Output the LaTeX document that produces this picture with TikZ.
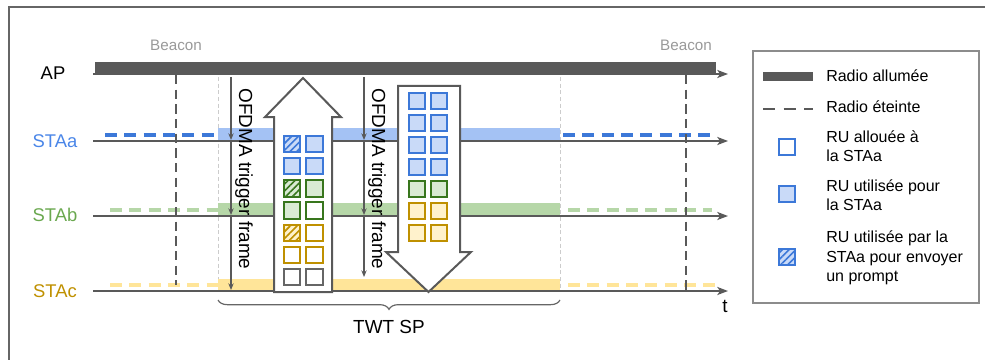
\documentclass[tikz,border=0pt]{standalone}
\usepackage{fontspec}
\setmainfont{Liberation Sans}
\usetikzlibrary{arrows.meta,patterns.meta,decorations.pathreplacing}

\definecolor{barGray}{HTML}{595959}
\definecolor{frameGray}{HTML}{666666}
\definecolor{legGray}{HTML}{8C8C8C}
\definecolor{guideGray}{HTML}{CCCCCC}
\definecolor{beaconGray}{HTML}{999999}
\definecolor{staBlue}{HTML}{3C78D8}
\definecolor{staBlueLab}{HTML}{4A86E8}
\definecolor{bandBlue}{HTML}{A4C2F4}
\definecolor{ruBlueFill}{HTML}{C9DAF8}
\definecolor{staGreen}{HTML}{38761D}
\definecolor{staGreenLab}{HTML}{6AA84F}
\definecolor{bandGreen}{HTML}{B6D7A8}
\definecolor{ruGreenFill}{HTML}{D9EAD3}
\definecolor{staYellow}{HTML}{BF9000}
\definecolor{bandYellow}{HTML}{FFE599}
\definecolor{ruYellowFill}{HTML}{FFF2CC}

\newcommand{\stafont}{\fontsize{13.8}{16}\selectfont}
\newcommand{\legfont}{\fontsize{12}{14.5}\selectfont}
\newcommand{\trigfont}{\fontsize{14.2}{16}\selectfont}

\tikzset{
  timeaxis/.style={draw=barGray, line width=1.4pt, -{Stealth[length=8pt,width=6pt,inset=2pt]}},
  offline/.style={line width=2.6pt, dash pattern=on 9pt off 5.5pt},
  beaconline/.style={draw=barGray, line width=1.6pt, dash pattern=on 7pt off 4pt},
  guide/.style={draw=guideGray, line width=0.6pt, dash pattern=on 3pt off 2pt},
  trig/.style={draw=barGray, line width=0.8pt, -{Stealth[length=5pt,width=4pt]}},
  blockarrow/.style={draw=barGray, line width=1.5pt, fill=white, line join=miter},
  ru/.style={draw=#1, line width=1.5pt, inner sep=0pt, minimum size=12.4pt, fill=white},
  hatch/.style={postaction={pattern={Lines[angle=45,distance=3.6pt,line width=1.2pt]}, pattern color=#1}},
  stalabel/.style={font=\stafont, inner sep=0.75pt},
  legtext/.style={font=\legfont, anchor=west, align=left, inner sep=0.75pt},
}

\begin{document}
\begin{tikzpicture}[x=0.75pt,y=0.75pt,yscale=-1,xscale=1]
\useasboundingbox (0,0) rectangle (985,360);

%Outer frame
\draw[frameGray, line width=1.2pt] (9,360) -- (9,7) -- (985,7);

%Guides of the TWT SP
\draw[guide] (218,77) -- (218,291);
\draw[guide] (560,77) -- (560,291);

%Bands: radio on during the TWT SP
\fill[bandBlue] (218,128) rectangle (560,141);
\fill[bandGreen] (218,203) rectangle (560,216);
\fill[bandYellow] (218,279) rectangle (560,291);

%Radio off
\draw[offline, staBlue] (105,135) -- (218,135);
\draw[offline, staBlue] (563,135) -- (712,135);
\draw[offline, bandGreen] (110,210) -- (218,210);
\draw[offline, bandGreen] (568,210) -- (712,210);
\draw[offline, bandYellow] (110,285) -- (218,285);
\draw[offline, bandYellow] (568,285) -- (716,285);

%Beacons
\draw[beaconline] (176,75) -- (176,285);
\draw[beaconline] (686,75) -- (686,291);
\node[font=\fontsize{11.4}{13}\selectfont, text=beaconGray] (bcn1) at (176,45) {Beacon};
\node[font=\fontsize{11.4}{13}\selectfont, text=beaconGray] (bcn2) at (686,45) {Beacon};

%AP bar
\fill[barGray] (95,62) rectangle (716,75);

%Time axes
\coordinate (apS) at (93,74);  \coordinate (apE) at (728,74);
\coordinate (aS) at (93,141);  \coordinate (aE) at (728,141);
\coordinate (bS) at (93,216);  \coordinate (bE) at (728,216);
\coordinate (cS) at (93,291);  \coordinate (cE) at (728,291);
\draw[timeaxis] (apS) -- (apE);
\draw[timeaxis] (aS) -- (aE);
\draw[timeaxis] (bS) -- (bE);
\draw[timeaxis] (cS) -- (cE);

% Text Node
\node[stalabel] (ap) at (53,73) {AP};
\node[stalabel, text=staBlueLab] (staa) at (55,141) {STAa};
\node[stalabel, text=staGreenLab] (stab) at (55,215) {STAb};
\node[stalabel, text=staYellow] (stac) at (55,291) {STAc};
\node[font=\trigfont] (tlab) at (725,306) {t};

%Trigger frames
\coordinate (t1) at (231,77);  \coordinate (t1a) at (231,140);
\coordinate (t1b) at (231,215); \coordinate (t1c) at (231,290);
\draw[trig] (t1) -- (t1a);
\draw[trig] (t1a) -- (t1b);
\draw[trig] (t1b) -- (t1c);
\node[font=\trigfont, rotate=-90] (trig1) at (244,179) {OFDMA trigger frame};
\coordinate (t2) at (364,77);  \coordinate (t2a) at (364,140);
\coordinate (t2b) at (364,215); \coordinate (t2c) at (364,277);
\draw[trig] (t2) -- (t2a);
\draw[trig] (t2a) -- (t2b);
\draw[trig] (t2b) -- (t2c);
\node[font=\trigfont, rotate=-90] (trig2) at (377,179) {OFDMA trigger frame};

%Shape: Up arrow
\draw[blockarrow] (274,292) -- (274,117) -- (265,117) -- (303,78) -- (341,117) -- (332,117) -- (332,292) -- cycle;
%Shape: Down arrow
\draw[blockarrow] (398,86) -- (460,86) -- (460,252) -- (471,252) -- (428.5,292) -- (386,252) -- (398,252) -- cycle;

%RUs of the uplink
\node[ru=staBlue, fill=ruBlueFill, hatch=staBlue] (u1a) at (292,144) {};
\node[ru=staBlue, fill=ruBlueFill] (u1b) at (314.5,144) {};
\node[ru=staBlue, fill=ruBlueFill] (u2a) at (292,166.2) {};
\node[ru=staBlue, fill=ruBlueFill] (u2b) at (314.5,166.2) {};
\node[ru=staGreen, fill=ruGreenFill, hatch=staGreen] (u3a) at (292,188.4) {};
\node[ru=staGreen, fill=ruGreenFill] (u3b) at (314.5,188.4) {};
\node[ru=staGreen, fill=ruGreenFill] (u4a) at (292,210.6) {};
\node[ru=staGreen] (u4b) at (314.5,210.6) {};
\node[ru=staYellow, fill=ruYellowFill, hatch=staYellow] (u5a) at (292,232.8) {};
\node[ru=staYellow] (u5b) at (314.5,232.8) {};
\node[ru=staYellow] (u6a) at (292,255) {};
\node[ru=staYellow] (u6b) at (314.5,255) {};
\node[ru=frameGray] (u7a) at (292,277.2) {};
\node[ru=frameGray] (u7b) at (314.5,277.2) {};

%RUs of the downlink
\node[ru=staBlue, fill=ruBlueFill] (d1a) at (417,101) {};
\node[ru=staBlue, fill=ruBlueFill] (d1b) at (439,101) {};
\node[ru=staBlue, fill=ruBlueFill] (d2a) at (417,123) {};
\node[ru=staBlue, fill=ruBlueFill] (d2b) at (439,123) {};
\node[ru=staBlue, fill=ruBlueFill] (d3a) at (417,145) {};
\node[ru=staBlue, fill=ruBlueFill] (d3b) at (439,145) {};
\node[ru=staBlue, fill=ruBlueFill] (d4a) at (417,167) {};
\node[ru=staBlue, fill=ruBlueFill] (d4b) at (439,167) {};
\node[ru=staGreen, fill=ruGreenFill] (d5a) at (417,189) {};
\node[ru=staGreen, fill=ruGreenFill] (d5b) at (439,189) {};
\node[ru=staYellow, fill=ruYellowFill] (d6a) at (417,211) {};
\node[ru=staYellow, fill=ruYellowFill] (d6b) at (439,211) {};
\node[ru=staYellow, fill=ruYellowFill] (d7a) at (417,233) {};
\node[ru=staYellow, fill=ruYellowFill] (d7b) at (439,233) {};

%TWT SP brace
\coordinate (twtL) at (218,300);
\coordinate (twtR) at (560,300);
\draw[frameGray, line width=0.9pt, decorate, decoration={brace, mirror, amplitude=7pt}] (twtL) -- (twtR);
\node[font=\trigfont] (twt) at (389,327) {TWT SP};

%Legend
\draw[legGray, line width=1.5pt] (753,51) rectangle (979,303);
\fill[barGray] (763,72) rectangle (813,81);
\draw[barGray, line width=2.2pt, dash pattern=on 9pt off 6.5pt] (763,109) -- (813,109);
\node[ru=staBlue] (leg1) at (787,147) {};
\node[ru=staBlue, fill=ruBlueFill] (leg2) at (787,194) {};
\node[ru=staBlue, fill=ruBlueFill, hatch=staBlue] (leg3) at (787,257) {};
\node[legtext] (legt0) at (825,76) {Radio allumée};
\node[legtext] (legtx) at (825,107) {Radio éteinte};
\node[legtext] (legt1) at (825,146) {RU allouée à\\la STAa};
\node[legtext] (legt2) at (825,195) {RU utilisée pour\\la STAa};
\node[legtext] (legt3) at (825,258) {RU utilisée par la\\STAa pour envoyer\\un prompt};

\end{tikzpicture}
\end{document}
